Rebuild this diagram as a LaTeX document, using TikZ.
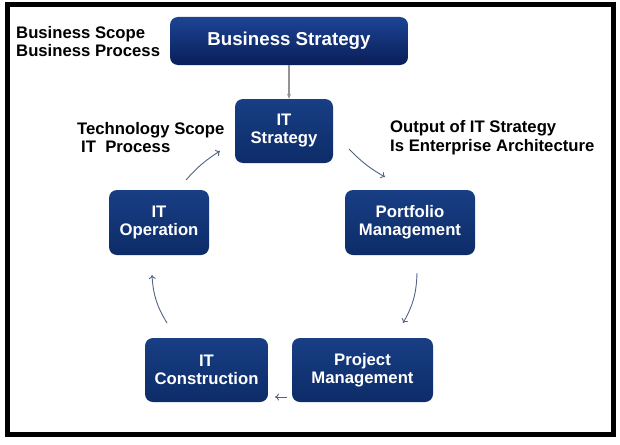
\documentclass[tikz,border=0pt]{standalone}
\usepackage{fontspec}
\setmainfont{Liberation Sans}
\usetikzlibrary{arrows.meta}
\definecolor{boxtop}{RGB}{24,62,132}
\definecolor{boxbot}{RGB}{13,44,104}
\definecolor{bstop}{RGB}{28,68,148}
\definecolor{bsbot}{RGB}{10,30,88}
\definecolor{arrowc}{RGB}{80,100,135}
\begin{document}
\begin{tikzpicture}[x=1pt,y=-1pt,
  box/.style={rectangle, rounded corners=8pt, top color=boxtop, bottom color=boxbot,
    draw=none, text=white, align=center, inner sep=0pt,
    font=\bfseries\fontsize{16.7}{18}\selectfont},
  lbl/.style={align=left, inner sep=0pt, anchor=west,
    font=\bfseries\fontsize{16.7}{18.5}\selectfont},
  cyc/.style={draw=arrowc, line width=0.9pt, -{To[length=4pt,width=7pt]}}]
\useasboundingbox (0,0) rectangle (620,444);
\fill[white] (0,0) rectangle (620,444);
\draw[line width=5pt] (7.5,4.5) rectangle (613.5,434.5);

\node[box, top color=bstop, bottom color=bsbot, minimum width=238pt, minimum height=48pt,
  font=\bfseries\fontsize{18.7}{20}\selectfont] (bs) at (289,41) {Business Strategy};
\node[box, minimum width=98pt, minimum height=64pt] (its) at (284,131) {IT\\Strategy};
\node[box, minimum width=100pt, minimum height=65pt] (itop) at (159,222.5) {IT\\Operation};
\node[box, minimum width=130pt, minimum height=65pt] (pf) at (410,222.5) {Portfolio\\Management};
\node[box, minimum width=123pt, minimum height=64pt] (itc) at (206.5,370) {IT\\Construction};
\node[box, minimum width=141pt, minimum height=64pt] (pm) at (362.5,370) {Project\\Management};

\node[lbl] (t1) at (16,41.5) {Business Scope\\Business Process};
\node[lbl] (t2) at (77,137.5) {Technology Scope\\\hspace{4pt}IT\ \ Process};
\node[lbl] (t3) at (390,137.5) {Output of IT Strategy\\Is Enterprise Architecture};

\draw[draw=gray!85, line width=1.1pt, -{Stealth[length=5pt,width=4pt]}] (bs.south) -- (bs.south |- its.north);

\coordinate (a1s) at (349,149); \coordinate (a1e) at (385,177);
\coordinate (a2s) at (417,273); \coordinate (a2e) at (403,323);
\coordinate (a3s) at (287,397); \coordinate (a3e) at (275,397);
\coordinate (a4s) at (167,323); \coordinate (a4e) at (152,275);
\coordinate (a5s) at (186,180); \coordinate (a5e) at (220,151);
\draw[cyc] (a1s) to[bend right=8] (a1e);
\draw[cyc] (a2s) to[bend left=14] (a2e);
\draw[cyc] (a3s) -- (a3e);
\draw[cyc] (a4s) to[bend left=14] (a4e);
\draw[cyc] (a5s) to[bend left=8] (a5e);
\end{tikzpicture}
\end{document}
